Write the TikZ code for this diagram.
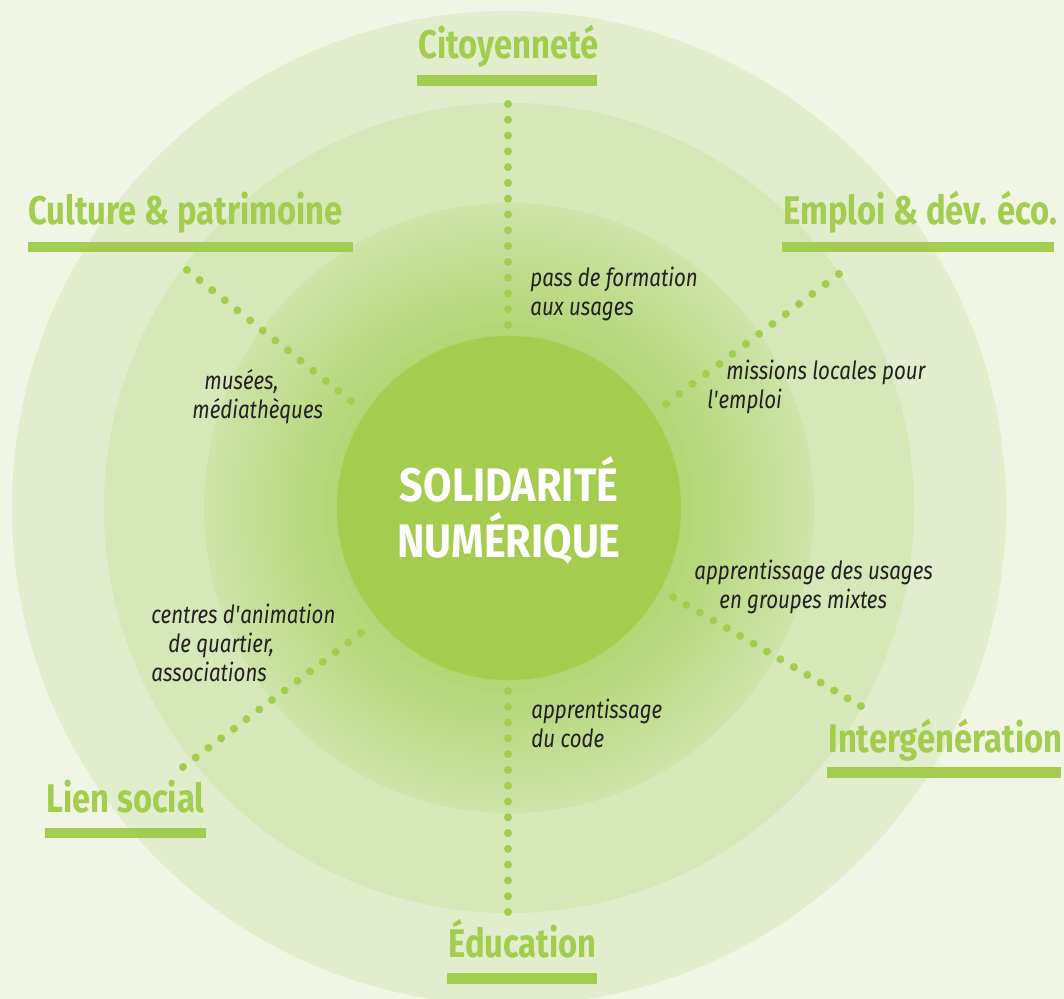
\documentclass[tikz,border=0pt]{standalone}
\usepackage{fontspec}
\setmainfont{Fira Sans}[FakeStretch=0.82]
\newfontfamily\hubfont{Fira Sans}[FakeStretch=0.88]
\usetikzlibrary{calc}

\definecolor{bgpale}{HTML}{F0F5E5}
\definecolor{ringA}{HTML}{E1EDCC}
\definecolor{ringB}{HTML}{D6E8B8}
\definecolor{ringCout}{HTML}{CEE3A7}
\definecolor{ringCin}{HTML}{B2D573}
\definecolor{corefill}{HTML}{A4CC4E}
\definecolor{leaf}{HTML}{A3CD4E}
\definecolor{ink}{HTML}{231F20}

% a row of #3+1 dots between two named points
\def\dotrow(#1)(#2)#3{\foreach \i in {0,...,#3}{\fill[leaf] ($(#1)!{\i/#3}!(#2)$) circle (4);}}

\tikzset{
  theme/.style={font=\bfseries\fontsize{20}{22}\selectfont, text=leaf, inner sep=0pt, anchor=base west},
  note/.style={font=\itshape\fontsize{12.5}{14.5}\selectfont, text=ink, inner sep=0pt, align=left, anchor=base west},
  hubtext/.style={font=\hubfont\bfseries\fontsize{23.5}{28}\selectfont, text=white, align=center, inner sep=0pt}
}

\begin{document}
\begin{tikzpicture}[x=0.5pt,y=0.5pt,yscale=-1]
			%%%%% BACKGROUND %%%%%
			\useasboundingbox (0,0) rectangle (1064,999);
			\clip (0,0) rectangle (1064,999);
			\fill[bgpale] (0,0) rectangle (1064,999);
			
			\coordinate (hub) at (509,508);
			\fill[ringA] (hub) circle (497);
			\fill[ringB] (hub) circle (405);
			\foreach \k in {0,...,24}{
				\pgfmathtruncatemacro\pct{100*\k/24}
				\pgfmathsetmacro\rad{305-\k*5.5}
				\fill[ringCin!\pct!ringCout] (hub) circle (\rad);
			}
			\fill[corefill] (hub) circle (172);
			
			\node[hubtext] (core) at (509,510) {SOLIDARITÉ\\NUMÉRIQUE};
			
			%%%%% THEMES %%%%%
			\node[theme] (cit) at (418,59) {Citoyenneté};
			\fill[leaf] (417,75) rectangle (597,86);
			
			\node[theme] (cul) at (28,225) {Culture \& patrimoine};
			\fill[leaf] (28,242) rectangle (353,252);
			
			\node[theme] (emp) at (783,225) {Emploi \& dév. éco.};
			\fill[leaf] (782,242) rectangle (1054,252);
			
			\node[theme] (int) at (828,752) {Intergénération};
			\fill[leaf] (827,767) rectangle (1061,778);
			
			\node[theme] (lie) at (46,812) {Lien social};
			\fill[leaf] (45,828) rectangle (206,838);
			
			\node[theme] (edu) at (448,957) {Éducation};
			\fill[leaf] (447,973) rectangle (597,984);
			
			%%%%% DOTTED LINKS %%%%%
			\coordinate (cit-out) at (508,104);  \coordinate (cit-in) at (508,325);
			\coordinate (edu-in) at (508,691);   \coordinate (edu-out) at (508,912);
			\coordinate (cul-out) at (187,270);  \coordinate (cul-in) at (351,401);
			\coordinate (emp-out) at (839,274);  \coordinate (emp-in) at (666,404);
			\coordinate (int-in) at (673,597);   \coordinate (int-out) at (861,706);
			\coordinate (lie-in) at (361,633);   \coordinate (lie-out) at (183,767);
			
			\dotrow(cit-out)(cit-in){14}
			\dotrow(edu-in)(edu-out){14}
			\dotrow(cul-out)(cul-in){13}
			\dotrow(emp-out)(emp-in){13}
			\dotrow(int-in)(int-out){14}
			\dotrow(lie-in)(lie-out){14}
			
			%%%%% NOTES %%%%% (base = last line)
			\node[note] (cit-note) at (530,316) {pass de formation\\aux usages};
			\node[note] (cul-note) at (192,419) {\hspace{6pt}musées,\\médiathèques};
			\node[note] (emp-note) at (707,409) {\hspace{9.5pt}missions locales pour\\l\textquotesingle emploi};
			\node[note] (int-note) at (694,608) {apprentissage des usages\\\hspace{12.5pt}en groupes mixtes};
			\node[note] (lie-note) at (151,681) {centres d\textquotesingle animation\\\hspace{8.5pt}de quartier,\\associations};
			\node[note] (edu-note) at (531,747) {apprentissage\\du code};
			
			%%%%% END %%%%%
		\end{tikzpicture}
\end{document}
